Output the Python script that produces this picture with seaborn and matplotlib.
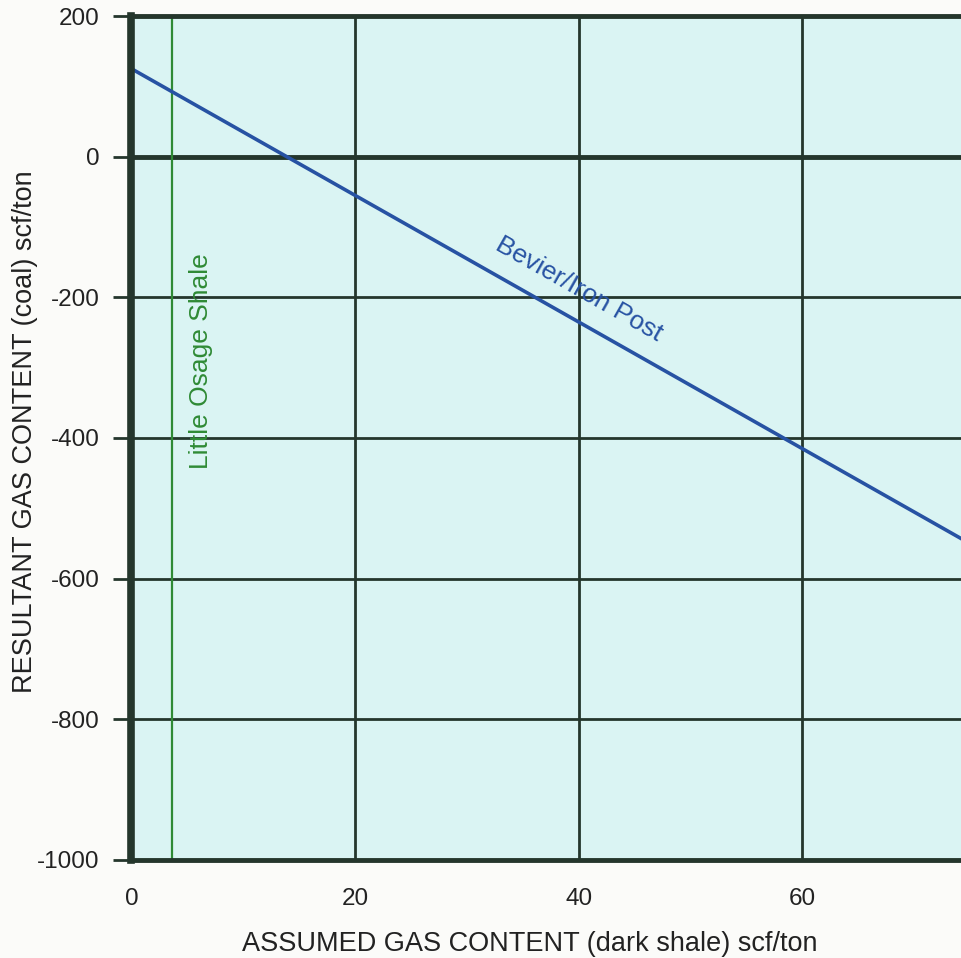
import numpy as np
import pandas as pd
import matplotlib
matplotlib.use("Agg")
import matplotlib.pyplot as plt
import seaborn as sns

# Resultant coal gas content as a function of assumed dark-shale gas content
assumed_gas = [0, 75]          # scf/ton (dark shale)
resultant_gas = [125, -550]    # scf/ton (coal)
line_label = "Bevier/Iron Post"

# Little Osage Shale measured gas content
little_osage_x = 3.6
little_osage_label = "Little Osage Shale"

x_ticks = [0, 20, 40, 60]
y_ticks = [200, 0, -200, -400, -600, -800, -1000]

sns.set_theme(style="white")
plt.rcParams["font.family"] = ["Liberation Sans", "DejaVu Sans"]
plt.rcParams["axes.unicode_minus"] = False

grid_col = "#24362c"
text_col = "#222222"
blue = "#2752a3"
green = "#2f8a35"

fig = plt.figure(figsize=(9.62, 9.58), dpi=100, facecolor="#fbfbf9")
ax = fig.add_axes([131.5 / 962, 1 - 860 / 958, 1 - 131.5 / 962, (860 - 16) / 958])
ax.set_facecolor("#daf4f3")

df = pd.DataFrame({"assumed": assumed_gas, "resultant": resultant_gas})
sns.lineplot(data=df, x="assumed", y="resultant", ax=ax, color=blue,
             linewidth=2.6, zorder=4)

ax.axvline(little_osage_x, color=green, linewidth=1.6, zorder=3)

ax.set_xlim(0, 74.3)
ax.set_ylim(-1000, 200)
ax.set_xticks(x_ticks)
ax.set_yticks(y_ticks)
ax.set_xticklabels([str(v) for v in x_ticks])
ax.set_yticklabels([str(v) for v in y_ticks])

# grid
for xv in x_ticks[1:]:
    ax.axvline(xv, color=grid_col, linewidth=2.0, zorder=2)
for yv in y_ticks:
    lw = 3.5 if yv == 0 else 2.0
    ax.axhline(yv, color=grid_col, linewidth=lw, zorder=2)

ax.spines["right"].set_visible(False)
ax.spines["left"].set_linewidth(5.5)
ax.spines["top"].set_linewidth(3.5)
ax.spines["bottom"].set_linewidth(3.5)
for side in ["left", "top", "bottom"]:
    ax.spines[side].set_color(grid_col)
    ax.spines[side].set_zorder(5)

ax.tick_params(axis="y", which="major", direction="out", length=13, width=2,
               color=grid_col, pad=10, labelsize=17.5, labelcolor=text_col, left=True)
ax.tick_params(axis="x", which="major", length=0, pad=20, labelsize=17.5,
               labelcolor=text_col, bottom=True)
for lab in ax.get_xticklabels():
    lab.set_x(lab.get_position()[0])

ax.set_xlabel("")
ax.set_ylabel("")

ax.text(40.0, -188, line_label, rotation=-29.6, color=blue, fontsize=19,
        ha="center", va="center", rotation_mode="anchor", zorder=6)
ax.text(6.2, -290, little_osage_label, rotation=90, color=green, fontsize=19,
        ha="center", va="center", zorder=6)

fig.text(530 / 962, 1 - 944 / 958, "ASSUMED GAS CONTENT (dark shale) scf/ton",
         ha="center", va="center", fontsize=19.5, color=text_col)
fig.text(25 / 962, 1 - 432 / 958, "RESULTANT GAS CONTENT (coal) scf/ton",
         ha="center", va="center", rotation=90, fontsize=19.5, color=text_col)

fig.savefig("out.png", dpi=100, facecolor=fig.get_facecolor())
